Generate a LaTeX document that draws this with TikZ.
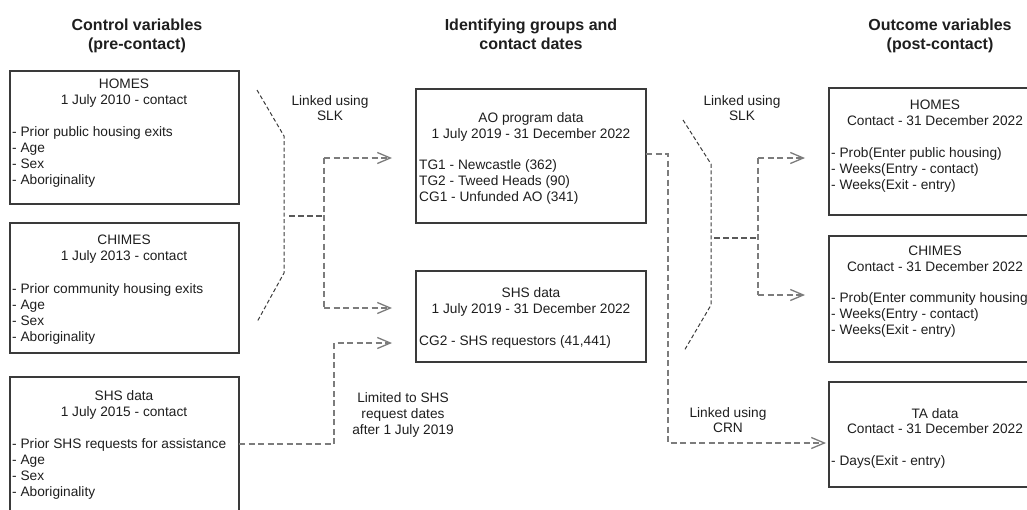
\documentclass[tikz,border=0pt]{standalone}
\usepackage{fontspec}
\setmainfont{Liberation Sans}
\usetikzlibrary{arrows.meta}
\definecolor{boxc}{HTML}{3A3A3A}
\definecolor{connc}{HTML}{7C7C7C}
\definecolor{brc}{HTML}{3C3C3C}
\definecolor{txtc}{HTML}{1E1E1E}
\tikzset{
  box/.style={draw=boxc, line width=1.2pt, anchor=north west, inner sep=0pt, outer sep=0pt},
  txt/.style={font=\fontsize{13.7}{16}\selectfont, text=txtc, inner sep=0pt, anchor=base},
  lst/.style={txt, anchor=base west},
  hdr/.style={font=\fontsize{16}{19}\selectfont\bfseries, text=txtc, inner sep=0pt, anchor=base},
  conn/.style={draw=connc, line width=1.4pt, dash pattern=on 6pt off 3.5pt},
  tip/.style={-{Straight Barb[length=13pt,width=11pt,line width=1.3pt]}},
  bracket/.style={draw=brc, line width=1pt, dash pattern=on 4pt off 2.5pt},
  branch/.style={draw=brc!85, line width=1.7pt, dash pattern=on 6pt off 3pt}
}
\begin{document}
\begin{tikzpicture}[x=1pt,y=-1pt]
\useasboundingbox (0,0) rectangle (1027,509);
\clip (0,0) rectangle (1027,509);
% headers
\node[hdr] (h1a) at (137,30) {Control variables};
\node[hdr] (h1b) at (137,49) {(pre-contact)};
\node[hdr] (h2a) at (531,30) {Identifying groups and};
\node[hdr] (h2b) at (531,49) {contact dates};
\node[hdr] (h3a) at (940,30) {Outcome variables};
\node[hdr] (h3b) at (940,49) {(post-contact)};
% left boxes
\node[box, minimum width=229pt, minimum height=133pt] (lhomes) at (10,71) {};
\node[txt] (lh1) at (124,88) {HOMES};
\node[txt] (lh2) at (124,104) {1 July 2010 - contact};
\node[lst] (lh3) at (12,136) {- Prior public housing exits};
\node[lst] (lh4) at (12,152) {- Age};
\node[lst] (lh5) at (12,168) {- Sex};
\node[lst] (lh6) at (12,184) {- Aboriginality};
\node[box, minimum width=229pt, minimum height=130pt] (lchimes) at (10,223) {};
\node[txt] (lc1) at (124,244) {CHIMES};
\node[txt] (lc2) at (124,260) {1 July 2013 - contact};
\node[lst] (lc3) at (12,293) {- Prior community housing exits};
\node[lst] (lc4) at (12,309) {- Age};
\node[lst] (lc5) at (12,325) {- Sex};
\node[lst] (lc6) at (12,341) {- Aboriginality};
\node[box, minimum width=229pt, minimum height=150pt] (lshs) at (10,377) {};
\node[txt] (ls1) at (124,400) {SHS data};
\node[txt] (ls2) at (124,416) {1 July 2015 - contact};
\node[lst] (ls3) at (12,448) {- Prior SHS requests for assistance};
\node[lst] (ls4) at (12,464) {- Age};
\node[lst] (ls5) at (12,480) {- Sex};
\node[lst] (ls6) at (12,496) {- Aboriginality};
% middle boxes
\node[box, minimum width=230pt, minimum height=134pt] (ao) at (416,89) {};
\node[txt] (ao1) at (531,122) {AO program data};
\node[txt] (ao2) at (531,138) {1 July 2019 - 31 December 2022};
\node[lst] (ao3) at (419,169) {TG1 - Newcastle (362)};
\node[lst] (ao4) at (419,185) {TG2 - Tweed Heads (90)};
\node[lst] (ao5) at (419,201) {CG1 - Unfunded AO (341)};
\node[box, minimum width=230pt, minimum height=91pt] (mshs) at (416,271) {};
\node[txt] (ms1) at (531,297) {SHS data};
\node[txt] (ms2) at (531,313) {1 July 2019 - 31 December 2022};
\node[lst] (ms3) at (419,345) {CG2 - SHS requestors (41,441)};
% right boxes
\node[box, minimum width=220pt, minimum height=127pt] (rhomes) at (829,88) {};
\node[txt] (rh1) at (935,109) {HOMES};
\node[txt] (rh2) at (935,125) {Contact - 31 December 2022};
\node[lst] (rh3) at (831,157) {- Prob(Enter public housing)};
\node[lst] (rh4) at (831,173) {- Weeks(Entry - contact)};
\node[lst] (rh5) at (831,189) {- Weeks(Exit - entry)};
\node[box, minimum width=220pt, minimum height=126pt] (rchimes) at (829,236) {};
\node[txt] (rc1) at (935,255) {CHIMES};
\node[txt] (rc2) at (935,271) {Contact - 31 December 2022};
\node[lst] (rc3) at (831,302) {- Prob(Enter community housing)};
\node[lst] (rc4) at (831,318) {- Weeks(Entry - contact)};
\node[lst] (rc5) at (831,334) {- Weeks(Exit - entry)};
\node[box, minimum width=220pt, minimum height=105pt] (rta) at (829,382) {};
\node[txt] (rt1) at (935,418) {TA data};
\node[txt] (rt2) at (935,433) {Contact - 31 December 2022};
\node[lst] (rt3) at (831,465) {- Days(Exit - entry)};
% link labels
\node[txt] (ll1) at (330,105) {Linked using};
\node[txt] (ll2) at (330,120) {SLK};
\node[txt] (rl1) at (742,105) {Linked using};
\node[txt] (rl2) at (742,120) {SLK};
\node[txt] (cl1) at (728,417) {Linked using};
\node[txt] (cl2) at (728,432) {CRN};
\node[txt] (lm1) at (403,402) {Limited to SHS};
\node[txt] (lm2) at (403,418) {request dates};
\node[txt] (lm3) at (403,434) {after 1 July 2019};
% left bracket and branches
\draw[bracket] (257,90) -- (284,136) -- (284,273) -- (257,322);
\coordinate (lbj) at (289,216);
\coordinate (lbv) at (324,216);
\coordinate (la1) at (392,158);
\coordinate (la2) at (392,308);
\draw[branch] (lbj) -- (lbv);
\draw[conn] (324,158) -- (324,308);
\draw[conn,tip] (lbv |- la1) -- (la1);
\draw[conn,tip] (lbv |- la2) -- (la2);
% SHS limited connector
\coordinate (la3) at (392,343);
\draw[conn,tip] (lshs.east |- 0,444) -- +(18,0) -- (334,444) |- (la3);
% right bracket and branches
\draw[bracket] (683,120) -- (711,164) -- (711,305) -- (684,351);
\coordinate (rbj) at (714,238);
\coordinate (rbv) at (758,238);
\coordinate (ra1) at (805,158);
\coordinate (ra2) at (805,295);
\draw[branch] (rbj) -- (rbv);
\draw[conn] (758,158) -- (758,295);
\draw[conn,tip] (rbv |- ra1) -- (ra1);
\draw[conn,tip] (rbv |- ra2) -- (ra2);
% AO to TA connector
\coordinate (ra3) at (826,443);
\draw[conn,tip] (ao.east |- 0,154) -- (668,154) |- (ra3);
\end{tikzpicture}
\end{document}
